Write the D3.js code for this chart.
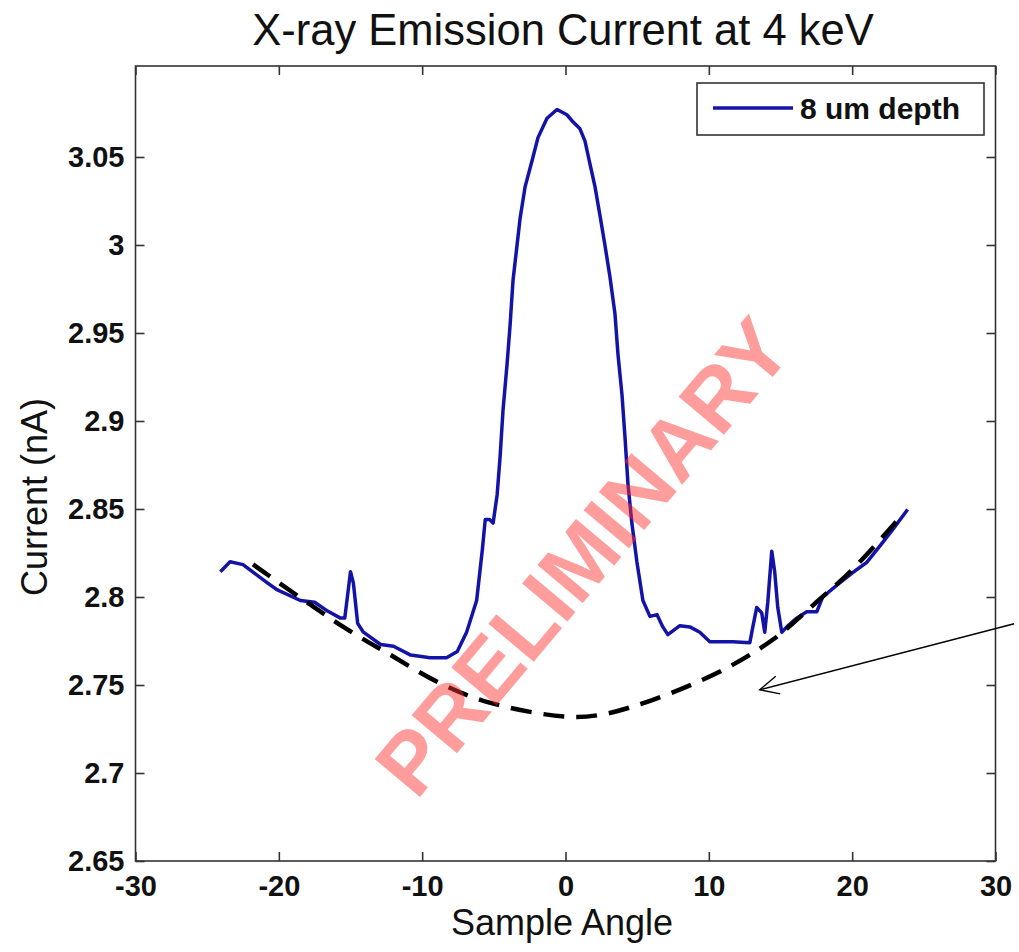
<!DOCTYPE html>
<html>
<head>
<meta charset="utf-8">
<script src="https://cdn.jsdelivr.net/npm/d3@7"></script>
<style>
  body { margin: 0; background: #fff; }
  svg { display: block; font-family: "Liberation Sans", Arial, sans-serif; }
</style>
</head>
<body>
<svg id="chart"></svg>
<script>
// measured series (sample angle, current in nA)
const angle = [-24.08, -23.4, -22.5, -20.8, -20.1, -18.5, -17.5, -16.6, -15.7, -15.4, -15.0, -14.8, -14.5, -14.1,
  -12.9, -12.0, -10.8, -9.45, -8.3, -7.55, -6.9, -6.2, -5.8, -5.6, -5.3, -5.05, -4.77, -4.56, -4.36, -4.08,
  -3.87, -3.66, -3.38, -3.17, -2.82, -2.33, -1.92, -1.29, -0.59, 0.10, 0.52, 1.01, 1.36, 1.71, 2.06, 2.40,
  2.75, 3.10, 3.45, 3.66, 3.94, 4.15, 4.36, 4.63, 4.98, 5.40, 5.89, 6.38, 6.79, 7.14, 7.98, 8.68, 9.37,
  10.07, 11.67, 12.86, 13.07, 13.34, 13.69, 13.90, 14.11, 14.39, 14.60, 14.81, 15.09, 15.44, 16.13, 16.83,
  17.53, 17.94, 19.13, 20.31, 21.0, 21.9, 22.8, 23.87];
const current = [2.8144, 2.820, 2.8184, 2.808, 2.804, 2.798, 2.797, 2.792, 2.788, 2.788, 2.8144, 2.808, 2.785, 2.780,
  2.773, 2.772, 2.767, 2.7655, 2.7655, 2.769, 2.780, 2.798, 2.827, 2.844, 2.844, 2.842, 2.858, 2.880, 2.906, 2.932,
  2.954, 2.980, 3.000, 3.015, 3.033, 3.048, 3.061, 3.072, 3.077, 3.074, 3.070, 3.066, 3.059, 3.046, 3.033, 3.017,
  3.000, 2.982, 2.961, 2.938, 2.915, 2.891, 2.864, 2.842, 2.820, 2.798, 2.789, 2.790, 2.783, 2.7786, 2.7837, 2.783, 2.780,
  2.7746, 2.7746, 2.774, 2.783, 2.794, 2.791, 2.780, 2.7968, 2.826, 2.814, 2.794, 2.780, 2.783, 2.788, 2.7916,
  2.7916, 2.800, 2.808, 2.8155, 2.8195, 2.8286, 2.838, 2.8497];

// dashed baseline drawn by hand on the original
const baseAngle = [-21.8, -15.5, -12.4, -8.75, -5.3, 0, 2.4, 6.1, 11.0, 14.5, 17.5, 20.0, 23.1];
const baseCurrent = [2.8185, 2.783, 2.768, 2.751, 2.740, 2.732, 2.733, 2.7416, 2.7586, 2.776, 2.797, 2.8155, 2.843];

const xTicks = [-30, -20, -10, 0, 10, 20, 30];
const yTicks = [2.65, 2.7, 2.75, 2.8, 2.85, 2.9, 2.95, 3, 3.05];

// arrow annotation, tail then tip, in data units
const arrowAngle = [31.3, 13.55];
const arrowCurrent = [2.7848, 2.7473];

const width = 1019, height = 952;
const plotLeft = 135.5, plotRight = 995.5, plotTop = 66, plotBottom = 861;

const svg = d3.select("#chart").attr("width", width).attr("height", height);

const x = d3.scaleLinear().domain([-30, 30]).range([plotLeft, plotRight]);
const y = d3.scaleLinear().domain([2.65, 3.1017]).range([plotBottom, plotTop]);

const axisColor = "#333";
const tickLen = 9;

// frame
svg.append("rect")
  .attr("x", plotLeft).attr("y", plotTop)
  .attr("width", plotRight - plotLeft).attr("height", plotBottom - plotTop)
  .attr("fill", "none").attr("stroke", axisColor).attr("stroke-width", 1.6);

const xAxis = d3.axisBottom(x).tickValues(xTicks).tickSize(-tickLen).tickSizeOuter(0).tickFormat(d => String(d));
const xAxisTop = d3.axisTop(x).tickValues(xTicks).tickSize(-tickLen).tickSizeOuter(0).tickFormat("");
const yAxis = d3.axisLeft(y).tickValues(yTicks).tickSize(-tickLen).tickSizeOuter(0).tickFormat(d => String(+d.toFixed(2)));
const yAxisRight = d3.axisRight(y).tickValues(yTicks).tickSize(-tickLen).tickSizeOuter(0).tickFormat("");

function styleAxis(g) {
  g.select(".domain").remove();
  g.selectAll(".tick line").attr("stroke", axisColor).attr("stroke-width", 1.6);
  g.selectAll(".tick text")
    .attr("fill", "#111")
    .style("font-size", "29px")
    .style("font-weight", "bold")
    .style("font-family", "'Liberation Sans', Arial, sans-serif");
}

svg.append("g").attr("transform", "translate(0," + plotBottom + ")").call(xAxis).call(styleAxis)
  .selectAll(".tick text").attr("y", 14).attr("dy", "0.71em");
svg.append("g").attr("transform", "translate(0," + plotTop + ")").call(xAxisTop).call(styleAxis);
svg.append("g").attr("transform", "translate(" + plotLeft + ",0)").call(yAxis).call(styleAxis)
  .selectAll(".tick text").attr("x", -11);
svg.append("g").attr("transform", "translate(" + plotRight + ",0)").call(yAxisRight).call(styleAxis);

// series
const seriesData = angle.map((a, i) => [a, current[i]]);
svg.append("path")
  .datum(seriesData)
  .attr("fill", "none")
  .attr("stroke", "#1313a8")
  .attr("stroke-width", 3.5)
  .attr("stroke-linejoin", "round")
  .attr("d", d3.line().x(d => x(d[0])).y(d => y(d[1])));

// dashed fit
const baseData = baseAngle.map((a, i) => [a, baseCurrent[i]]);
svg.append("path")
  .datum(baseData)
  .attr("fill", "none")
  .attr("stroke", "#000")
  .attr("stroke-width", 4.5)
  .attr("stroke-dasharray", "21,12")
  .attr("d", d3.line().curve(d3.curveCatmullRom).x(d => x(d[0])).y(d => y(d[1])));

// watermark
svg.append("text")
  .attr("transform", "translate(582,556) rotate(-50)")
  .attr("text-anchor", "middle")
  .attr("dy", "0.36em")
  .attr("fill", "#ff3030")
  .attr("fill-opacity", 0.48)
  .style("font-size", "86px")
  .style("font-weight", "bold")
  .text("PRELIMINARY");

// arrow
const tail = [x(arrowAngle[0]), y(arrowCurrent[0])];
const tip = [x(arrowAngle[1]), y(arrowCurrent[1])];
const ang = Math.atan2(tail[1] - tip[1], tail[0] - tip[0]);
const headLen = 21, spread = 0.45;
svg.append("line")
  .attr("x1", tail[0]).attr("y1", tail[1]).attr("x2", tip[0]).attr("y2", tip[1])
  .attr("stroke", "#000").attr("stroke-width", 1.4);
svg.append("path")
  .attr("fill", "none").attr("stroke", "#000").attr("stroke-width", 1.4)
  .attr("d", d3.line()([
    [tip[0] + headLen * Math.cos(ang - spread), tip[1] + headLen * Math.sin(ang - spread)],
    tip,
    [tip[0] + headLen * Math.cos(ang + spread), tip[1] + headLen * Math.sin(ang + spread)]
  ]));

// legend
svg.append("rect")
  .attr("x", 697).attr("y", 83).attr("width", 287).attr("height", 52)
  .attr("fill", "#fff").attr("stroke", axisColor).attr("stroke-width", 1.6);
svg.append("line")
  .attr("x1", 713).attr("x2", 793).attr("y1", 108).attr("y2", 108)
  .attr("stroke", "#1313a8").attr("stroke-width", 3.5);
svg.append("text")
  .attr("x", 800).attr("y", 119)
  .attr("fill", "#111")
  .style("font-size", "30px")
  .style("font-weight", "bold")
  .text("8 um depth");

// titles
svg.append("text")
  .attr("x", 563).attr("y", 45)
  .attr("text-anchor", "middle")
  .attr("fill", "#111")
  .style("font-size", "43.5px")
  .text("X-ray Emission Current at 4 keV");

svg.append("text")
  .attr("x", 562).attr("y", 935)
  .attr("text-anchor", "middle")
  .attr("fill", "#111")
  .style("font-size", "36px")
  .text("Sample Angle");

svg.append("text")
  .attr("transform", "translate(47,497) rotate(-90)")
  .attr("text-anchor", "middle")
  .attr("fill", "#111")
  .style("font-size", "36px")
  .text("Current (nA)");
</script>
</body>
</html>
